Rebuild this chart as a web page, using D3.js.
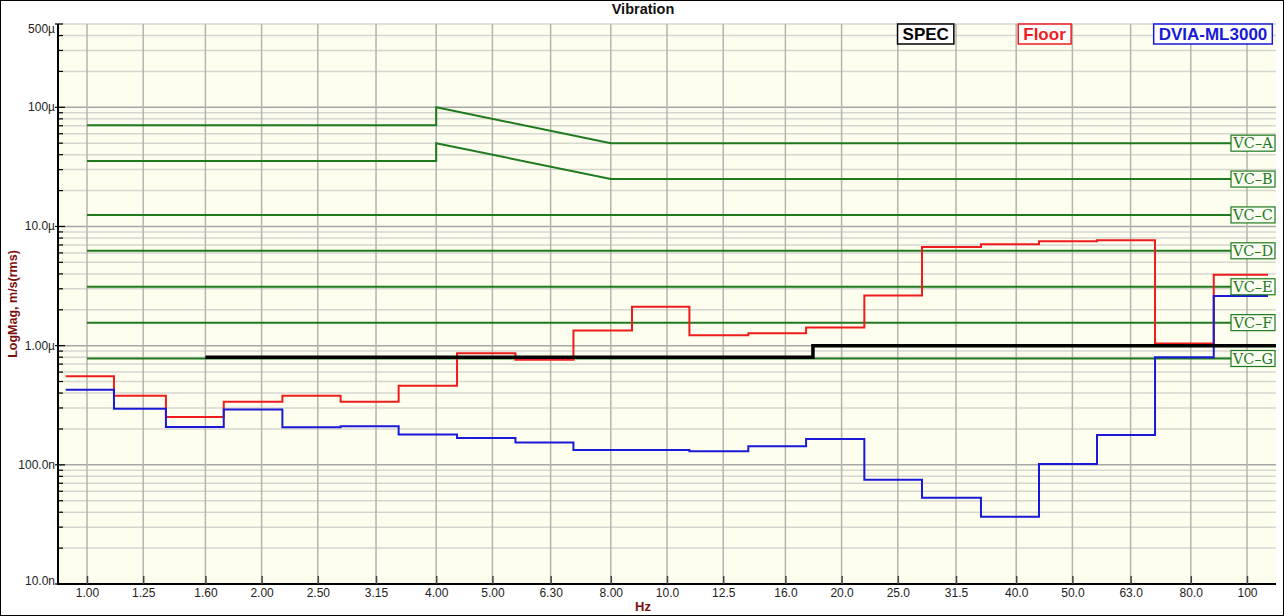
<!DOCTYPE html>
<html><head><meta charset="utf-8">
<script src="https://cdn.jsdelivr.net/npm/d3@7/dist/d3.min.js"></script>
<style>body{margin:0;background:#fff;}svg{display:block;}</style>
</head><body>
<svg id="chart" width="1284" height="616"></svg>
<script>
// ---------- DATA ----------
// 1/3-octave band labels (x ticks)
const xTickValues = [1, 1.25, 1.6, 2, 2.5, 3.15, 4, 5, 6.3, 8, 10, 12.5, 16, 20, 25, 31.5, 40, 50, 63, 80, 100];
const xTickLabels = ["1.00","1.25","1.60","2.00","2.50","3.15","4.00","5.00","6.30","8.00","10.0","12.5","16.0","20.0","25.0","31.5","40.0","50.0","63.0","80.0","100"];
const bandEdgesHz = [0.919, 1.113, 1.368, 1.721, 2.172, 2.737, 3.446, 4.345, 5.479, 6.897, 8.703, 10.93, 13.81, 17.37, 21.89, 27.52, 34.78, 43.79, 55.13, 69.41, 87.63, 108.7];
// Floor velocity, m/s rms, one per band
const floorValues = [0.554e-6, 0.379e-6, 0.2525e-6, 0.338e-6, 0.379e-6, 0.338e-6, 0.460e-6, 0.864e-6, 0.761e-6, 1.34e-6, 2.12e-6, 1.22e-6, 1.27e-6, 1.42e-6, 2.64e-6, 6.72e-6, 7.09e-6, 7.51e-6, 7.66e-6, 1.04e-6, 3.94e-6];
// DVIA-ML3000 velocity, m/s rms, one per band
const dviaValues = [0.426e-6, 0.295e-6, 0.208e-6, 0.291e-6, 0.2065e-6, 0.2105e-6, 0.180e-6, 0.168e-6, 0.154e-6, 0.133e-6, 0.133e-6, 0.130e-6, 0.143e-6, 0.165e-6, 0.0751e-6, 0.0530e-6, 0.0367e-6, 0.1017e-6, 0.178e-6, 0.800e-6, 2.61e-6];
// SPEC limit
const specEdgesHz = [1.6, 17.85, 112.2];
const specValues = [0.8e-6, 1.0e-6];
// VC criteria
const vcLabels = ["VC–A", "VC–B", "VC–C", "VC–D", "VC–E", "VC–F", "VC–G"];
const vcCurveFreqs = [1, 4, 4, 8, 100];
const vcAValues = [70.7e-6, 70.7e-6, 100e-6, 50e-6, 50e-6];
const vcBValues = [35.4e-6, 35.4e-6, 50e-6, 25e-6, 25e-6];
const vcFlatFreqs = [1, 100];
const vcFlatLevels = [12.5e-6, 6.25e-6, 3.12e-6, 1.56e-6, 0.78e-6];
// y axis
const yMajorValues = [500e-6, 100e-6, 10e-6, 1e-6, 100e-9, 10e-9];
const yMajorLabels = ["500µ", "100µ", "10.0µ", "1.00µ", "100.0n", "10.0n"];
// legend
const legendNames = ["SPEC", "Floor", "DVIA-ML3000"];

// ---------- LAYOUT ----------
const W = 1284, H = 616;
const L = 58, R = 1276, T = 24, B = 584;
const colors = { floor: "#ee1c1c", dvia: "#1a1ad6", spec: "#000000", vc: "#1f7a1f" };

const svg = d3.select("#chart");
const x = d3.scaleLog().domain([Math.pow(10, -0.05), Math.pow(10, 2.05)]).range([L, R]);
const y = d3.scaleLog().domain([10e-9, 500e-6]).range([B, T]);
const isDecade = d => Math.abs(Math.log10(d) - Math.round(Math.log10(d))) < 1e-6;

// outer frame
svg.append("rect").attr("x", 0.5).attr("y", 0.5).attr("width", W - 1).attr("height", H - 1)
  .attr("fill", "#fff").attr("stroke", "#000").attr("stroke-width", 1);

// plot background
svg.append("rect").attr("x", L).attr("y", T).attr("width", R - L).attr("height", B - T).attr("fill", "#fefeee");

// horizontal grid
const yAll = y.ticks().filter(v => v <= 500e-6 && v >= 10e-9);
const gGrid = svg.append("g");
gGrid.selectAll("line.h").data(yAll).join("line")
  .attr("x1", L).attr("x2", R).attr("y1", d => y(d)).attr("y2", d => y(d))
  .attr("stroke", d => isDecade(d) ? "#a6a6a6" : "#d6d6d0")
  .attr("stroke-width", 1.5);
// vertical grid
gGrid.selectAll("line.v").data(xTickValues).join("line")
  .attr("x1", d => x(d)).attr("x2", d => x(d)).attr("y1", T).attr("y2", B)
  .attr("stroke", "#b4b4b0").attr("stroke-width", 1.5);

// VC lines
const lineFH = d3.line().x(d => x(d[0])).y(d => y(d[1]));
const vcSeries = [
  vcCurveFreqs.map((f, i) => [f, vcAValues[i]]),
  vcCurveFreqs.map((f, i) => [f, vcBValues[i]])
].concat(vcFlatLevels.map(v => vcFlatFreqs.map(f => [f, v])));
const vcRight = vcSeries.map(s => s[s.length - 1][1]);
svg.append("g").selectAll("path").data(vcSeries).join("path")
  .attr("d", lineFH).attr("fill", "none").attr("stroke", colors.vc).attr("stroke-width", 2);

// step series
const stepLine = d3.line().x(d => x(d[0])).y(d => y(d[1])).curve(d3.curveStepAfter);
function stepPoints(edges, vals) {
  const pts = vals.map((v, i) => [edges[i], v]);
  pts.push([edges[vals.length], vals[vals.length - 1]]);
  return pts;
}
svg.append("path").attr("d", stepLine(stepPoints(bandEdgesHz, floorValues)))
  .attr("fill", "none").attr("stroke", colors.floor).attr("stroke-width", 2);
svg.append("path").attr("d", stepLine(stepPoints(bandEdgesHz, dviaValues)))
  .attr("fill", "none").attr("stroke", colors.dvia).attr("stroke-width", 2);
svg.append("path").attr("d", stepLine(stepPoints(specEdgesHz, specValues)))
  .attr("fill", "none").attr("stroke", colors.spec).attr("stroke-width", 3.5);

// VC labels
const gVC = svg.append("g");
vcLabels.forEach((lab, i) => {
  const cy = y(vcRight[i]);
  gVC.append("rect").attr("x", R - 45).attr("y", cy - 8).attr("width", 44).attr("height", 16)
    .attr("fill", "#fbfdf3").attr("stroke", colors.vc).attr("stroke-width", 1.2);
  gVC.append("text").attr("x", R - 23).attr("y", cy + 5).attr("text-anchor", "middle")
    .attr("font-family", "'DejaVu Serif', serif").attr("font-size", 14.5).attr("fill", colors.vc).text(lab);
});

// axes lines
svg.append("line").attr("x1", L).attr("x2", L).attr("y1", T).attr("y2", B + 1).attr("stroke", "#000").attr("stroke-width", 2);
svg.append("line").attr("x1", L - 1).attr("x2", R).attr("y1", B).attr("y2", B).attr("stroke", "#000").attr("stroke-width", 2);

// y ticks
svg.append("g").selectAll("line").data(yAll).join("line")
  .attr("x1", d => (isDecade(d) || d === 500e-6) ? L - 3 : L)
  .attr("x2", d => isDecade(d) ? L + 7 : L + 5)
  .attr("y1", d => y(d)).attr("y2", d => y(d)).attr("stroke", "#000").attr("stroke-width", 1.2);
svg.append("g").selectAll("text").data(yMajorValues).join("text")
  .attr("x", L - 3).attr("y", (d, i) => i === 0 ? y(d) + 9 : (i === yMajorValues.length - 1 ? y(d) + 1 : y(d) + 4))
  .attr("text-anchor", "end").attr("font-family", "Arial, 'Liberation Sans', sans-serif").attr("font-size", 12)
  .attr("fill", "#222").text((d, i) => yMajorLabels[i]);

// x axis ticks & labels
const xAxis = d3.axisBottom(x).tickValues(xTickValues).tickFormat((d, i) => xTickLabels[i]).tickSizeInner(-8).tickSizeOuter(0).tickPadding(4);
const gx = svg.append("g").attr("transform", `translate(0,${B})`).call(xAxis);
gx.select(".domain").remove();
gx.selectAll(".tick line").attr("stroke", "#444").attr("stroke-width", 1.5);
gx.selectAll(".tick text").attr("font-family", "Arial, 'Liberation Sans', sans-serif").attr("font-size", 12).attr("fill", "#222");

// titles
svg.append("text").attr("x", 643).attr("y", 14).attr("text-anchor", "middle")
  .attr("font-family", "Arial, 'Liberation Sans', sans-serif").attr("font-weight", "bold").attr("font-size", 14.5)
  .attr("fill", "#111").text("Vibration");
svg.append("text").attr("transform", `translate(17,${(T + B) / 2}) rotate(-90)`).attr("text-anchor", "middle")
  .attr("font-family", "Arial, 'Liberation Sans', sans-serif").attr("font-weight", "bold").attr("font-size", 12.5)
  .attr("fill", "#7b0f0f").text("LogMag, m/s(rms)");
svg.append("text").attr("x", 643).attr("y", 611).attr("text-anchor", "middle")
  .attr("font-family", "Arial, 'Liberation Sans', sans-serif").attr("font-weight", "bold").attr("font-size", 13)
  .attr("fill", "#7b0f0f").text("Hz");

// legend
const legendColors = [colors.spec, colors.floor, colors.dvia];
const legendCenters = [925.7, 1044.5, 1213];
const gL = svg.append("g");
legendNames.forEach((n, i) => {
  const g = gL.append("g");
  const rect = g.append("rect");
  const t = g.append("text").attr("x", legendCenters[i]).attr("y", 40).attr("text-anchor", "middle")
    .attr("font-family", "Arial, 'Liberation Sans', sans-serif").attr("font-weight", "bold").attr("font-size", 17)
    .attr("fill", legendColors[i]).text(n);
  const bb = t.node().getBBox();
  rect.attr("x", bb.x - 5).attr("y", 24).attr("width", bb.width + 10).attr("height", 20)
    .attr("fill", "#fff").attr("stroke", legendColors[i]).attr("stroke-width", 1.5);
});
</script>
</body></html>
